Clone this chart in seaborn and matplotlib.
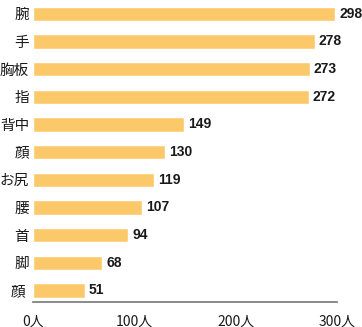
import matplotlib
matplotlib.use("Agg")
import matplotlib.pyplot as plt
import seaborn as sns
import pandas as pd

categories = ["腕", "手", "胸板", "指", "背中", "顔", "お尻", "腰", "首", "脚", "顔 "]
values = [298, 278, 273, 272, 149, 130, 119, 107, 94, 68, 51]
tick_values = [0, 100, 200, 300]
tick_labels = ["0人", "100人", "200人", "300人"]

sns.set_style("white")
plt.rcParams['font.family'] = ['Noto Sans CJK JP', 'DejaVu Sans']

df = pd.DataFrame({"cat": categories, "val": values})
fig = plt.figure(figsize=(3.62, 3.27), dpi=100)
ax = fig.add_axes([0.092, 0.0765, 0.839, 0.9235])
sns.barplot(data=df, x="val", y="cat", orient="h", color="#FCC96A",
            saturation=1, width=0.52, ax=ax)
for i, v in enumerate(values):
    ax.text(v + 4, i, str(v), va="center", ha="left", fontsize=10,
            color="#1a1a1a", fontweight="bold", family="Liberation Sans")
ax.set_xlim(0, 300)
ax.set_ylim(10.42, -0.5)
ax.set_xticks(tick_values)
ax.set_xticklabels(tick_labels, fontsize=10, color="#1a1a1a")
ax.tick_params(axis="x", direction="in", length=5, color="#777777", width=1.2, pad=9)
ax.tick_params(axis="y", length=0, labelsize=10.5, labelcolor="#1a1a1a", pad=3)
ax.set_xlabel("")
ax.set_ylabel("")
for s in ["top", "right", "left"]:
    ax.spines[s].set_visible(False)
ax.spines["bottom"].set_color("#777777")
ax.spines["bottom"].set_linewidth(1.2)
fig.savefig("out.png", dpi=100)
